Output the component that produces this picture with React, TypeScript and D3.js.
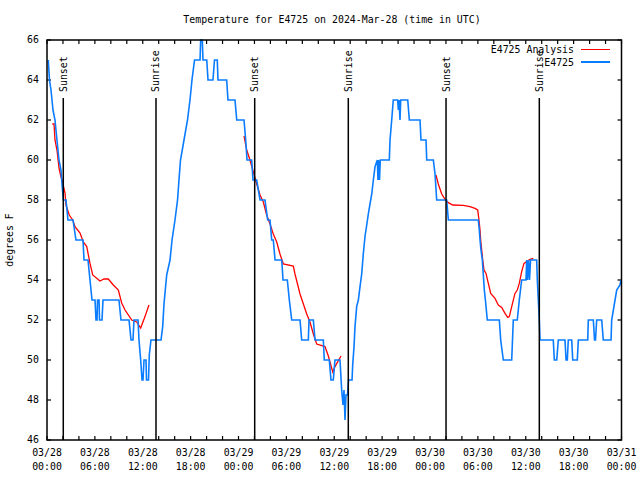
import React from 'react';
import * as d3 from 'd3';

const TITLE = 'Temperature for E4725 on 2024-Mar-28 (time in UTC)';
const Y_LABEL = 'degrees F';
const START = Date.UTC(2024, 2, 28);
const SPAN_HOURS = 72;
const Y_DOMAIN: [number, number] = [46, 66];
const Y_TICKS = [46, 48, 50, 52, 54, 56, 58, 60, 62, 64, 66];
const SERIES_NAMES = ['E4725 Analysis', 'E4725'];
const SERIES_COLORS = ['#ff0000', '#0a7cff'];

const SUN_LABELS = ['Sunset', 'Sunrise', 'Sunset', 'Sunrise', 'Sunset', 'Sunrise'];
const SUN_HOURS = [2.04, 13.66, 26.03, 37.76, 50.01, 61.7];

// observed E4725 temperature: [hours since 03/28 00:00 UTC, degF]
const OBSERVED: [number, number][] = [
  [0.16, 65], [0.31, 64], [0.5, 63.5], [0.75, 62.5], [1.0, 62], [1.25, 61], [1.5, 60], [1.75, 59.5],
  [1.94, 58.5], [2.04, 58], [2.38, 58], [2.63, 57], [3.26, 57], [3.63, 56], [4.51, 56], [4.64, 55],
  [5.14, 55], [5.39, 54], [5.64, 53], [6.02, 53], [6.14, 52], [6.27, 52], [6.33, 53], [6.52, 53],
  [6.58, 52], [6.89, 52], [7.02, 53], [9.02, 53], [9.27, 52], [10.28, 52], [10.53, 51], [10.78, 51],
  [10.9, 52], [11.41, 52], [11.53, 51], [11.74, 50], [11.91, 49], [12.03, 49], [12.16, 50], [12.41, 50],
  [12.47, 49], [12.72, 49], [12.82, 50.25], [13.03, 51], [14.29, 51], [14.5, 51.67], [14.66, 52.8],
  [15.0, 54.25], [15.42, 55], [15.67, 56], [16.04, 57], [16.36, 58], [16.54, 59], [16.73, 60],
  [17.17, 61], [17.61, 62], [17.92, 63], [18.17, 64], [18.49, 65], [19.18, 65], [19.26, 66], [19.46, 66],
  [19.55, 65], [20.02, 65], [20.18, 64], [20.8, 64], [20.99, 65], [21.34, 65], [21.43, 64], [22.52, 64],
  [22.68, 63], [23.56, 63], [23.78, 62], [24.69, 62], [24.9, 61], [25.07, 60], [25.65, 60], [25.82, 59],
  [26.28, 59], [26.7, 58], [27.32, 58], [27.66, 57], [27.95, 57], [28.16, 56], [28.36, 56], [28.58, 55],
  [29.42, 55], [29.58, 54], [30.12, 54], [30.37, 53], [30.67, 52], [31.71, 52], [31.92, 51], [32.75, 51],
  [32.84, 52], [33.38, 52], [33.59, 51], [34.63, 51], [34.75, 50], [35.38, 50], [35.59, 49], [35.88, 49],
  [36.09, 50], [36.72, 50], [36.93, 48.5], [37.1, 47.75], [37.22, 48.5], [37.35, 47], [37.47, 48.25],
  [37.66, 48.25], [37.79, 49], [38.23, 49], [38.31, 49.75], [38.48, 50.67], [38.6, 51.67], [38.81, 52.67],
  [39.02, 53], [39.23, 53.67], [39.44, 54.3], [39.64, 55.3], [39.86, 56.2], [40.07, 56.75], [40.27, 57.3],
  [40.48, 57.8], [40.7, 58.3], [40.9, 59], [41.11, 59.67], [41.4, 60], [41.48, 59], [41.55, 60],
  [41.67, 59], [41.77, 60], [42.9, 60], [42.99, 61], [43.2, 62], [43.4, 63], [43.95, 63], [44.03, 62.5],
  [44.12, 63], [44.24, 62], [44.33, 63], [45.21, 63], [45.41, 62], [46.75, 62], [46.87, 61], [47.5, 61],
  [47.59, 60], [48.42, 60], [48.63, 59.3], [48.84, 58], [50.09, 58], [50.3, 57], [54.05, 57],
  [54.18, 56.5], [54.27, 56], [54.39, 55.5], [54.56, 55], [54.81, 53.5], [54.98, 52.85], [55.18, 52],
  [56.69, 52], [56.86, 51], [57.19, 50], [58.24, 50], [58.44, 52], [58.94, 52], [59.19, 53], [59.49, 54],
  [60.03, 54], [60.12, 55], [60.22, 54], [60.35, 55], [60.47, 54], [60.6, 55], [61.37, 55], [61.45, 54],
  [61.7, 52], [61.79, 51], [63.45, 51], [63.58, 50], [63.88, 50], [64.08, 51], [64.92, 51], [65.05, 50],
  [65.21, 50], [65.33, 51], [65.76, 51], [65.89, 50], [66.46, 50], [66.59, 51], [67.77, 51], [67.84, 52],
  [68.47, 52], [68.62, 51], [68.74, 51], [68.89, 52], [69.52, 52], [69.72, 51], [70.69, 51], [70.77, 52],
  [71.19, 53], [71.4, 53.5], [71.81, 53.75], [71.94, 54],
];

// analysis temperature (three separate stretches)
const ANALYSIS_1: [number, number][] = [
  [0.66, 61.8], [0.88, 61.8], [1.0, 61], [1.25, 60.5], [1.5, 59.6], [1.72, 59.2], [1.88, 59],
  [2.26, 58.35], [2.38, 57.75], [2.79, 57.25], [3.22, 57], [3.51, 56.67], [4.14, 56.35], [4.55, 55.9],
  [4.98, 55.67], [5.39, 54.83], [5.73, 54.25], [6.64, 53.95], [7.14, 54.05], [7.68, 54.05], [8.31, 53.75],
  [8.94, 53.5], [9.36, 52.85], [9.78, 52.5], [10.62, 52], [11.24, 51.9], [11.74, 51.6], [12.28, 52.17],
  [12.78, 52.75],
];
const ANALYSIS_2: [number, number][] = [
  [24.69, 61.2], [25.03, 60.5], [25.44, 60], [25.86, 59.4], [26.28, 58.8], [26.7, 58.25], [27.11, 57.9],
  [27.53, 57.25], [27.95, 56.8], [28.36, 56.3], [28.79, 55.9], [29.2, 55.3], [29.62, 54.8], [30.87, 54.7],
  [31.08, 54.3], [31.71, 53.3], [32.55, 52.3], [32.96, 51.9], [33.38, 51.3], [33.8, 50.8], [34.84, 50.67],
  [35.26, 50.2], [35.81, 49.4], [36.09, 49.67], [36.85, 50.2],
];
const ANALYSIS_3: [number, number][] = [
  [48.75, 59.25], [49.04, 58.8], [49.47, 58.3], [49.88, 58.03], [50.3, 57.87], [50.85, 57.75],
  [52.17, 57.73], [53.01, 57.67], [53.64, 57.58], [53.98, 57.5], [54.14, 57], [54.27, 56.5], [54.35, 56],
  [54.61, 55], [54.77, 54.5], [55.02, 54.33], [55.31, 53.83], [55.61, 53.33], [56.15, 53.08],
  [56.56, 52.75], [56.99, 52.63], [57.4, 52.33], [57.74, 52.13], [57.94, 52.17], [58.24, 52.67],
  [58.65, 53.33], [58.94, 53.5], [59.19, 53.83], [59.49, 54.42], [59.78, 54.83], [60.12, 54.92],
  [60.53, 55.03], [60.95, 55.08],
];
const ANALYSIS = [ANALYSIS_1, ANALYSIS_2, ANALYSIS_3];

const W = 640;
const H = 480;
const L = 47;
const R = 621.5;
const T = 40;
const B = 440;
const FONT = '"DejaVu Sans Mono", "Liberation Mono", monospace';
const FS = 9.9;

export default function App() {
  const toDate = (h: number) => new Date(START + h * 3600e3);
  const x = d3.scaleUtc().domain([toDate(0), toDate(SPAN_HOURS)]).range([L, R]);
  const y = d3.scaleLinear().domain(Y_DOMAIN).range([B, T]);
  const line = d3
    .line<[number, number]>()
    .x((d) => x(toDate(d[0])))
    .y((d) => y(d[1]));

  const minorTicks = x.ticks(d3.utcHour.every(2) as any);
  const majorTicks = x.ticks(d3.utcHour.every(6) as any);
  const fmtDay = d3.utcFormat('%m/%d');
  const fmtTime = d3.utcFormat('%H:%M');
  const TL = 4;

  const sunTop = B - 0.855 * (B - T);
  const sunLabelBase = sunTop - 6;

  return (
    <svg
      width={W}
      height={H}
      style={{ position: 'absolute', left: 0, top: 0, background: '#fff' }}
      fontFamily={FONT}
      fontSize={FS}
    >
      <rect x={0} y={0} width={W} height={H} fill="#fff" />
      <text x={332} y={20} dy="0.35em" textAnchor="middle" fill="#000">
        {TITLE}
      </text>
      <text transform={`translate(10,${(T + B) / 2}) rotate(-90)`} dy="0.35em" textAnchor="middle" fill="#000">
        {Y_LABEL}
      </text>

      {/* y ticks and labels */}
      {Y_TICKS.map((t) => (
        <g key={'y' + t}>
          <line x1={L} x2={L + TL} y1={y(t)} y2={y(t)} stroke="#000" strokeWidth={1.2} />
          <line x1={R - TL} x2={R} y1={y(t)} y2={y(t)} stroke="#000" strokeWidth={1.2} />
          <text x={39} y={y(t)} dy="0.35em" textAnchor="end" fill="#000">
            {t}
          </text>
        </g>
      ))}

      {/* x ticks */}
      {minorTicks.map((t, i) => (
        <g key={'x' + i}>
          <line x1={x(t)} x2={x(t)} y1={B} y2={B - TL} stroke="#000" strokeWidth={1.2} />
          <line x1={x(t)} x2={x(t)} y1={T} y2={T + TL} stroke="#000" strokeWidth={1.2} />
        </g>
      ))}
      {majorTicks.map((t, i) => (
        <g key={'xl' + i}>
          <text x={x(t)} y={453} dy="0.35em" textAnchor="middle" fill="#000">
            {fmtDay(t)}
          </text>
          <text x={x(t)} y={467} dy="0.35em" textAnchor="middle" fill="#000">
            {fmtTime(t)}
          </text>
        </g>
      ))}

      {/* analysis (red) */}
      {ANALYSIS.map((seg, i) => (
        <path key={'a' + i} d={line(seg) || ''} fill="none" stroke={SERIES_COLORS[0]} strokeWidth={1.3} />
      ))}
      {/* observed (blue) */}
      <path d={line(OBSERVED) || ''} fill="none" stroke={SERIES_COLORS[1]} strokeWidth={1.6} strokeLinejoin="miter" />

      {/* sunrise / sunset markers */}
      {SUN_HOURS.map((h, i) => (
        <g key={'s' + i}>
          <line
            x1={x(toDate(h))}
            x2={x(toDate(h))}
            y1={B}
            y2={sunTop}
            stroke="#000"
            strokeWidth={1.5}
          />
          <text
            transform={`translate(${x(toDate(h))},${sunLabelBase}) rotate(-90)`}
            dy="0.35em"
            textAnchor="start"
            fill="#000"
          >
            {SUN_LABELS[i]}
          </text>
        </g>
      ))}

      {/* legend */}
      {SERIES_NAMES.map((name, i) => (
        <g key={'lg' + i}>
          <text x={574} y={50 + i * 12.5} dy="0.35em" textAnchor="end" fill="#000">
            {name}
          </text>
          <line
            x1={581}
            x2={610}
            y1={49.5 + i * 12.5}
            y2={49.5 + i * 12.5}
            stroke={SERIES_COLORS[i]}
            strokeWidth={1.4}
            shapeRendering="crispEdges"
          />
        </g>
      ))}

      {/* border */}
      <rect x={L} y={T} width={R - L} height={B - T} fill="none" stroke="#000" strokeWidth={1.5} />
    </svg>
  );
}
